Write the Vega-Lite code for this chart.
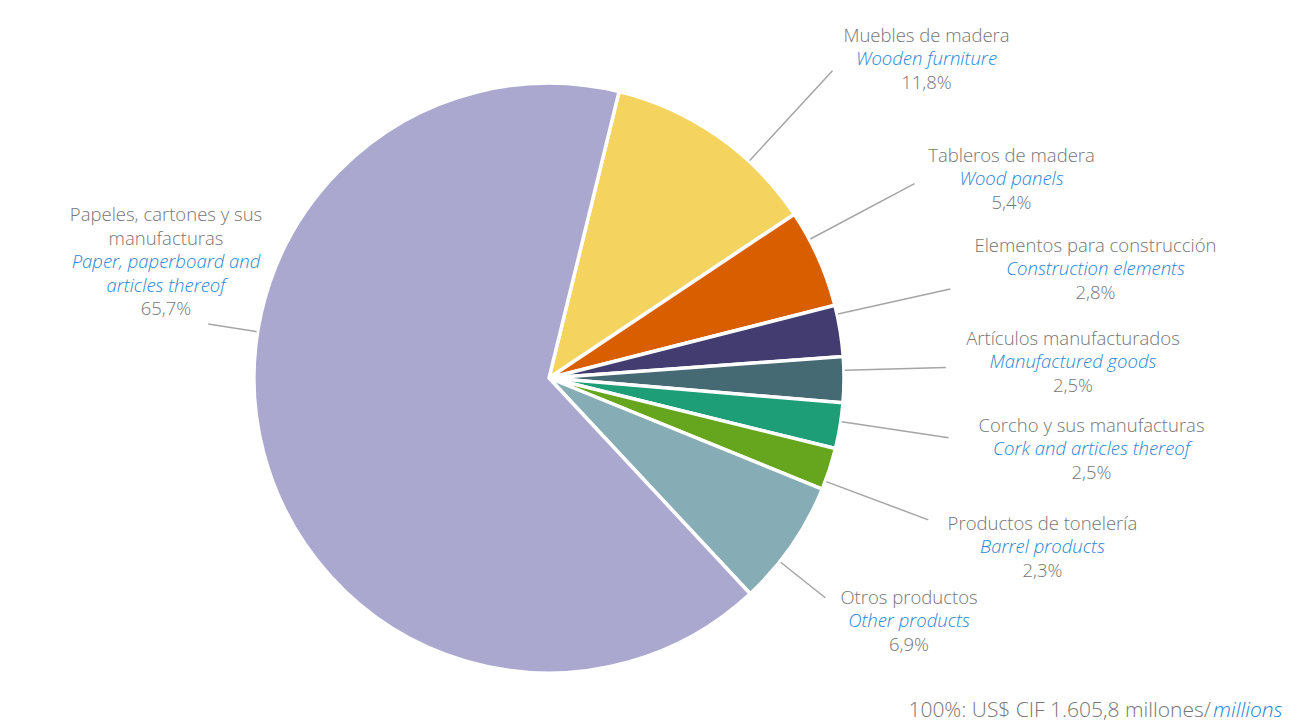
{
  "$schema": "https://vega.github.io/schema/vega-lite/v6.json",
  "width": 1098,
  "height": 698,
  "autosize": "none",
  "padding": {"left": 0, "top": 29, "right": 193, "bottom": 0},
  "background": "white",
  "config": {"view": {"stroke": null}, "font": "Open Sans"},
  "data": {
    "values": [
      {"orden": 1, "es": "Muebles de madera", "en": "Wooden furniture", "pct": "11,8%", "valor": 11.8},
      {"orden": 2, "es": "Tableros de madera", "en": "Wood panels", "pct": "5,4%", "valor": 5.4},
      {"orden": 3, "es": "Elementos para construcción", "en": "Construction elements", "pct": "2,8%", "valor": 2.8},
      {"orden": 4, "es": "Artículos manufacturados", "en": "Manufactured goods", "pct": "2,5%", "valor": 2.5},
      {"orden": 5, "es": "Corcho y sus manufacturas", "en": "Cork and articles thereof", "pct": "2,5%", "valor": 2.5},
      {"orden": 6, "es": "Productos de tonelería", "en": "Barrel products", "pct": "2,3%", "valor": 2.3},
      {"orden": 7, "es": "Otros productos", "en": "Other products", "pct": "6,9%", "valor": 6.9},
      {"orden": 8, "es": "Papeles, cartones y sus\nmanufacturas", "en": "Paper, paperboard and\narticles thereof", "pct": "65,7%", "valor": 65.7}
    ]
  },
  "layer": [
    {
      "mark": {"type": "arc", "radius": 295, "stroke": "white", "strokeWidth": 3.5},
      "encoding": {
        "theta": {"field": "valor", "type": "quantitative", "stack": true, "scale": {"domain": [0, 99.9], "range": [0.24, 6.52319]}},
        "order": {"field": "orden", "type": "quantitative"},
        "color": {
          "field": "orden", "type": "nominal", "legend": null,
          "scale": {"domain": [1, 2, 3, 4, 5, 6, 7, 8], "range": ["#F4D45E", "#D95E00", "#423C71", "#456A73", "#1D9E77", "#65A61E", "#86ACB5", "#ABA8D0"]}
        }
      }
    },
    {
      "mark": {"type": "arc", "radius2": 296, "fill": null, "stroke": "#A5A5A5", "strokeWidth": 1.5},
      "encoding": {
        "theta": {"field": "orden", "type": "quantitative", "stack": null, "scale": {"zero": false, "nice": false, "domain": [1, 2, 3, 4, 5, 6, 7, 8], "range": [0.74526, 1.0821, 1.35263, 1.54462, 1.71915, 1.92859, 2.24275, 4.86947]}},
        "theta2": {"field": "orden"},
        "radius": {"field": "orden", "type": "quantitative", "scale": {"type": "linear", "zero": false, "nice": false, "domain": [1, 2, 3, 4, 5, 6, 7, 8], "range": [418, 414, 411, 397, 404, 405, 353, 345]}}
      }
    },
    {
      "encoding": {
        "theta": {"field": "orden", "type": "quantitative", "stack": null, "scale": {"zero": false, "nice": false, "domain": [1, 2, 3, 4, 5, 6, 7, 8], "range": [0.8697, 1.16501, 1.37445, 1.54078, 1.70152, 1.90136, 2.16508, 5.00579]}},
        "radius": {"field": "orden", "type": "quantitative", "scale": {"type": "linear", "zero": false, "nice": false, "domain": [1, 2, 3, 4, 5, 6, 7, 8], "range": [494, 503.4, 557.2, 524.2, 547.2, 521.7, 434.5, 400.1]}}
      },
      "layer": [
        {
          "transform": [{"filter": "datum.orden < 8"}],
          "mark": {"type": "text", "font": "Open Sans", "fontSize": 18.5, "fontWeight": 300, "fill": "#767676", "align": "center", "baseline": "middle", "dy": -23.5},
          "encoding": {"text": {"field": "es"}}
        },
        {
          "transform": [{"filter": "datum.orden < 8"}],
          "mark": {"type": "text", "font": "Open Sans", "fontSize": 18.5, "fontWeight": 300, "fontStyle": "italic", "fill": "#2A86D2", "align": "center", "baseline": "middle", "dy": 0},
          "encoding": {"text": {"field": "en"}}
        },
        {
          "transform": [{"filter": "datum.orden < 8"}],
          "mark": {"type": "text", "font": "Open Sans", "fontSize": 18.5, "fontWeight": 300, "fill": "#767676", "align": "center", "baseline": "middle", "dy": 23.5},
          "encoding": {"text": {"field": "pct"}}
        },
        {
          "transform": [{"filter": "datum.orden == 8"}],
          "mark": {"type": "text", "font": "Open Sans", "fontSize": 18.5, "fontWeight": 300, "fill": "#767676", "align": "center", "baseline": "middle", "lineBreak": "\n", "lineHeight": 23.5, "dy": -47},
          "encoding": {"text": {"field": "es"}}
        },
        {
          "transform": [{"filter": "datum.orden == 8"}],
          "mark": {"type": "text", "font": "Open Sans", "fontSize": 18.5, "fontWeight": 300, "fontStyle": "italic", "fill": "#2A86D2", "align": "center", "baseline": "middle", "lineBreak": "\n", "lineHeight": 23.5, "dy": 0},
          "encoding": {"text": {"field": "en"}}
        },
        {
          "transform": [{"filter": "datum.orden == 8"}],
          "mark": {"type": "text", "font": "Open Sans", "fontSize": 18.5, "fontWeight": 300, "fill": "#767676", "align": "center", "baseline": "middle", "dy": 47},
          "encoding": {"text": {"field": "pct"}}
        }
      ]
    },
    {
      "data": {"values": [{"nota": "100%: US$ CIF 1.605,8 millones/", "unidad": "millions"}]},
      "layer": [
        {
          "mark": {"type": "text", "font": "Open Sans", "fontSize": 21, "fontWeight": 300, "fill": "#767676", "align": "right", "baseline": "alphabetic", "x": {"expr": "width + 113"}, "y": {"expr": "height - 10"}},
          "encoding": {"text": {"field": "nota"}}
        },
        {
          "mark": {"type": "text", "font": "Open Sans", "fontSize": 21, "fontWeight": 300, "fontStyle": "italic", "fill": "#2A86D2", "align": "left", "baseline": "alphabetic", "x": {"expr": "width + 115"}, "y": {"expr": "height - 10"}},
          "encoding": {"text": {"field": "unidad"}}
        }
      ]
    }
  ],
  "resolve": {"scale": {"theta": "independent", "radius": "independent"}}
}
